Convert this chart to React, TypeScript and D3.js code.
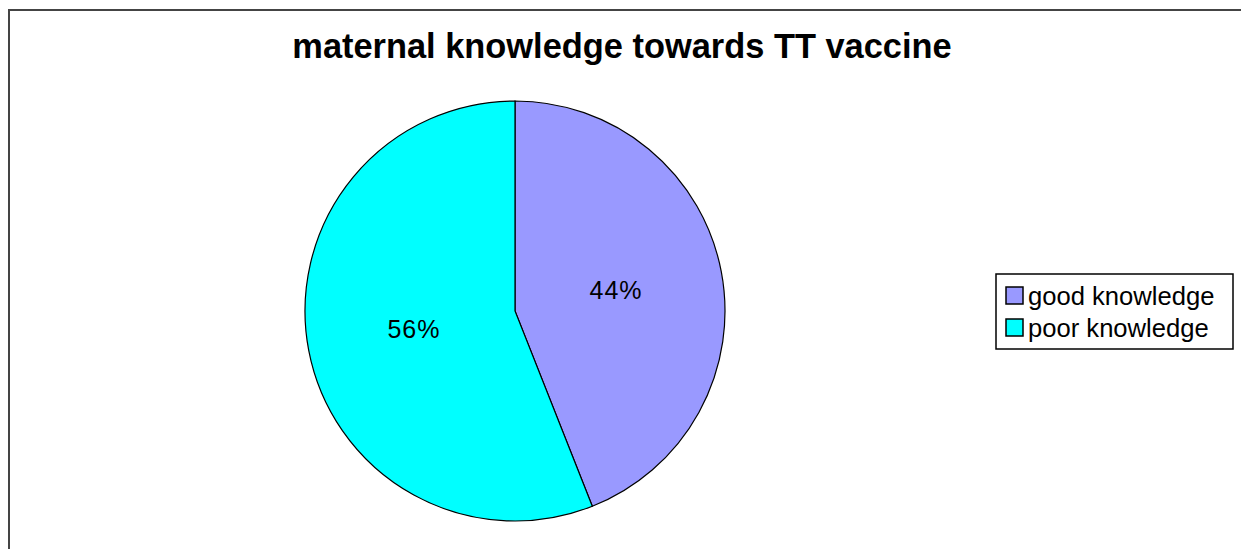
import { useEffect, useRef } from 'react'
import * as d3 from 'd3'

const categories = ['good knowledge', 'poor knowledge']
const values = [44, 56]
const colors = ['#9999ff', '#00ffff']
const title = 'maternal knowledge towards TT vaccine'

export default function App() {
  const ref = useRef<SVGSVGElement>(null)

  useEffect(() => {
    const el = ref.current
    if (!el) return
    const w = 1241
    const h = 549
    const font = 'Liberation Sans, Arial, sans-serif'
    const svg = d3.select(el)
    svg.selectAll('*').remove()
    svg.attr('viewBox', `0 0 ${w} ${h}`)

    svg.append('rect').attr('width', w).attr('height', h).attr('fill', '#fff')

    // chart frame (runs off the right and bottom edges)
    svg.append('rect')
      .attr('x', 9).attr('y', 10).attr('width', w + 20).attr('height', h + 20)
      .attr('fill', 'none').attr('stroke', '#444').attr('stroke-width', 2)

    svg.append('text')
      .attr('x', 622).attr('y', 58)
      .attr('text-anchor', 'middle')
      .attr('font-family', font)
      .attr('font-weight', 'bold').attr('font-size', 34.4)
      .attr('fill', '#000')
      .text(title)

    // Pie
    const cx = 515, cy = 311, r = 210
    const data = categories.map((c, i) => ({ c, v: values[i], color: colors[i] }))
    const pie = d3.pie<typeof data[0]>().value(d => d.v).sort(null)
    const arcs = pie(data)
    const arc = d3.arc<d3.PieArcDatum<typeof data[0]>>().innerRadius(0).outerRadius(r)
    const labelArc = d3.arc<d3.PieArcDatum<typeof data[0]>>().innerRadius(r * 0.49).outerRadius(r * 0.49)

    const g = svg.append('g').attr('transform', `translate(${cx},${cy})`)
    g.selectAll('path').data(arcs).join('path')
      .attr('d', arc)
      .attr('fill', d => d.data.color)
      .attr('stroke', '#000').attr('stroke-width', 1.2)

    g.selectAll('text').data(arcs).join('text')
      .attr('transform', d => `translate(${labelArc.centroid(d)})`)
      .attr('text-anchor', 'middle').attr('dy', '0.3em')
      .attr('font-family', font)
      .attr('font-size', 25)
      .attr('letter-spacing', 1)
      .attr('fill', '#000')
      .text(d => `${d.data.v}%`)

    // Legend
    const lg = svg.append('g').attr('transform', 'translate(996,274)')
    lg.append('rect').attr('width', 237).attr('height', 75)
      .attr('fill', '#fff').attr('stroke', '#000').attr('stroke-width', 1.5)
    const item = lg.selectAll('g.item').data(data).join('g')
      .attr('class', 'item')
      .attr('transform', (_, i) => `translate(10,${13 + i * 32})`)
    item.append('rect').attr('width', 17).attr('height', 17)
      .attr('fill', d => d.color).attr('stroke', '#000').attr('stroke-width', 1.5)
    item.append('text')
      .attr('x', 22).attr('y', 18)
      .attr('font-family', font)
      .attr('font-size', 25.6)
      .attr('fill', '#000')
      .text(d => d.c)
  }, [])

  return (
    <div style={{ position: 'absolute', left: 0, top: 0 }}>
      <svg ref={ref} width={1241} height={549} style={{ display: 'block' }}></svg>
    </div>
  )
}
